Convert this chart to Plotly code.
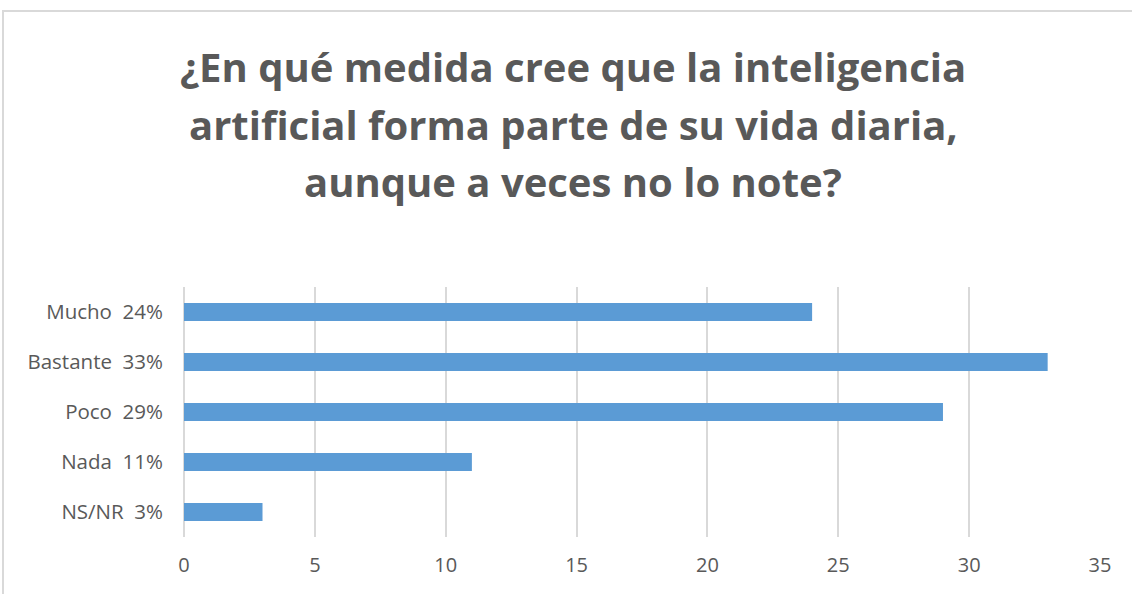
import plotly.graph_objects as go

categories = ["Mucho  24%", "Bastante  33%", "Poco  29%", "Nada  11%", "NS/NR  3%"]
values = [24, 33, 29, 11, 3]
title_lines = [
    "¿En qué medida cree que la inteligencia",
    "artificial forma parte de su vida diaria,",
    "aunque a veces no lo note?",
]
tick_vals = [0, 5, 10, 15, 20, 25, 30, 35]

W, H = 1132, 594
L, R, T, B = 184, 32, 287, 57
pw, ph = W - L - R, H - T - B

def px_x(px):
    return (px - L) / pw

def px_y(py):
    return (H - B - py) / ph

fig = go.Figure(go.Bar(
    x=values, y=categories, orientation="h",
    marker=dict(color="#5b9bd5", line=dict(width=0)),
    width=0.36,
))

annotations = []
centers = [66, 124, 181]
for line, cy in zip(title_lines, centers):
    annotations.append(dict(
        text="<b>" + line + "</b>", x=px_x(573), y=px_y(cy),
        xref="paper", yref="paper", showarrow=False,
        xanchor="center", yanchor="middle",
        font=dict(family="Open Sans", size=40, color="#595959"),
    ))

fig.update_layout(
    width=W, height=H,
    margin=dict(l=L, r=R, t=T, b=B),
    paper_bgcolor="white", plot_bgcolor="white",
    showlegend=False,
    annotations=annotations,
    xaxis=dict(
        range=[0, 35], tickvals=tick_vals, showgrid=True,
        gridcolor="#d9d9d9", gridwidth=2, zeroline=False,
        showline=False, ticks="",
        tickfont=dict(family="Open Sans", size=20, color="#595959"),
        ticklabelstandoff=14,
    ),
    yaxis=dict(
        autorange="reversed", showgrid=False, zeroline=False,
        showline=False, ticks="",
        tickfont=dict(family="Open Sans", size=20.5, color="#595959"),
        ticklabelstandoff=20,
    ),
    shapes=[
        dict(type="line", xref="paper", yref="paper",
             x0=px_x(184), x1=px_x(184), y0=0, y1=1,
             line=dict(color="#d9d9d9", width=2), layer="below"),
        dict(type="rect", xref="paper", yref="paper",
             x0=px_x(3), x1=px_x(1140), y0=px_y(11), y1=px_y(600),
             line=dict(color="#d9d9d9", width=2), fillcolor="rgba(0,0,0,0)"),
    ],
)

fig.write_html("out.html", config={"displayModeBar": False},
               post_script="document.body.style.margin='0';")
